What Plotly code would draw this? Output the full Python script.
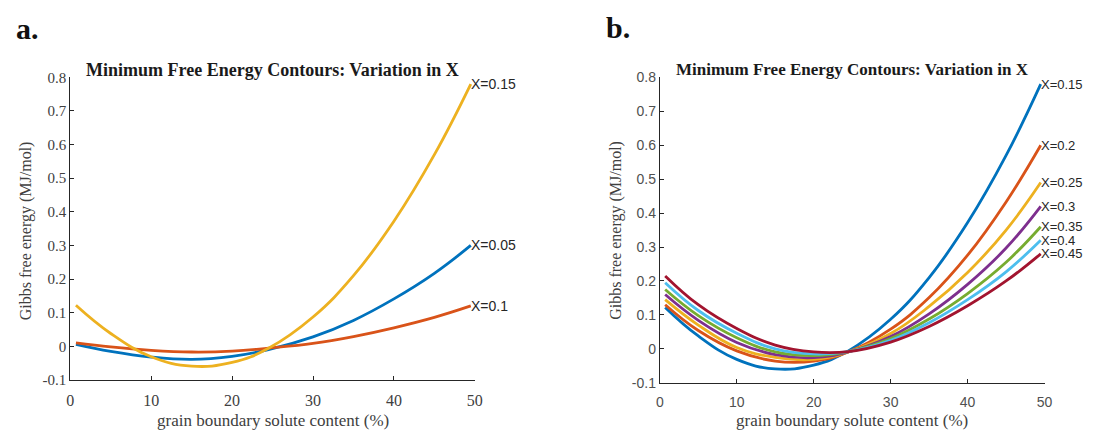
import plotly.graph_objects as go

# ---- data ---------------------------------------------------------------
# grain boundary solute content (%) at which each contour is sampled
gb_content = [0.7, 5, 10, 15, 20, 24.5, 30, 35, 40, 45, 49.5]

# Gibbs free energy (MJ/mol), panel a
g_x005 = [0.006, -0.015, -0.032, -0.039, -0.030, -0.010, 0.028, 0.077, 0.141, 0.217, 0.300]
g_x010 = [0.010, -0.002, -0.012, -0.017, -0.0145, -0.0055, 0.0085, 0.029, 0.055, 0.086, 0.120]
g_x015 = [0.122, 0.038, -0.031, -0.059, -0.048, -0.006, 0.087, 0.210, 0.372, 0.570, 0.780]

# Gibbs free energy (MJ/mol), panel b
g_x020 = [0.130, 0.054, -0.006, -0.036, -0.036, -0.009, 0.058, 0.151, 0.276, 0.433, 0.600]
g_x025 = [0.145, 0.070, 0.004, -0.025, -0.031, -0.009, 0.045, 0.125, 0.225, 0.350, 0.490]
g_x030 = [0.160, 0.084, 0.019, -0.017, -0.026, -0.009, 0.036, 0.103, 0.190, 0.297, 0.420]
g_x035 = [0.175, 0.098, 0.033, -0.009, -0.020, -0.008, 0.030, 0.088, 0.163, 0.255, 0.360]
g_x040 = [0.195, 0.113, 0.046, 0.000, -0.015, -0.008, 0.025, 0.077, 0.145, 0.227, 0.320]
g_x045 = [0.215, 0.130, 0.060, 0.011, -0.009, -0.008, 0.020, 0.066, 0.127, 0.200, 0.280]

labels_a = ["X=0.05", "X=0.1", "X=0.15"]
series_a = [g_x005, g_x010, g_x015]
labels_b = ["X=0.15", "X=0.2", "X=0.25", "X=0.3", "X=0.35", "X=0.4", "X=0.45"]
series_b = [g_x015, g_x020, g_x025, g_x030, g_x035, g_x040, g_x045]

x_ticks = [0, 10, 20, 30, 40, 50]
x_tick_text = ["0", "10", "20", "30", "40", "50"]
y_ticks = [-0.1, 0, 0.1, 0.2, 0.3, 0.4, 0.5, 0.6, 0.7, 0.8]
y_tick_text = ["-0.1", "0", "0.1", "0.2", "0.3", "0.4", "0.5", "0.6", "0.7", "0.8"]

title_text = "Minimum Free Energy Contours: Variation in X"
x_title = "grain boundary solute content (%)"
y_title = "Gibbs free energy (MJ/mol)"

# ---- styling ------------------------------------------------------------
palette = ["#0072BD", "#D95319", "#EDB120", "#7E2F8E", "#77AC30", "#4DBEEE", "#A2142F"]
W, H = 1104, 438
SERIF = "Liberation Serif, Times New Roman, serif"
SANS = "Liberation Sans, Arial, sans-serif"
AX = "#262626"

# plot areas in pixels (left, right, top, bottom)
box_a = (67, 476, 72, 386)
box_b = (663, 1052, 72, 389)


def dom_x(b):
    return [b[0] / W, b[1] / W]


def dom_y(b):
    return [1 - b[3] / H, 1 - b[2] / H]


fig = go.Figure()

for i, (lab, ys) in enumerate(zip(labels_a, series_a)):
    fig.add_trace(go.Scatter(x=gb_content, y=ys, mode="lines", xaxis="x", yaxis="y",
                             line=dict(color=palette[i], width=2.8, shape="spline", smoothing=1.2),
                             showlegend=False, name=lab))
for i, (lab, ys) in enumerate(zip(labels_b, series_b)):
    fig.add_trace(go.Scatter(x=gb_content, y=ys, mode="lines", xaxis="x2", yaxis="y2",
                             line=dict(color=palette[i], width=2.8, shape="spline", smoothing=1.2),
                             showlegend=False, name=lab))

axis_common = dict(showline=True, linecolor=AX, linewidth=1, ticks="inside", ticklen=4,
                   tickcolor=AX, showgrid=False, zeroline=False, mirror=False)

fig.update_layout(
    width=W, height=H, margin=dict(l=0, r=0, t=0, b=0),
    paper_bgcolor="white", plot_bgcolor="white",
    xaxis=dict(domain=dom_x(box_a), range=[0, 50], anchor="y", tickvals=x_ticks,
               ticktext=x_tick_text, ticklabelstandoff=6,
               tickfont=dict(family=SERIF, size=16, color="#404040"), **axis_common),
    yaxis=dict(domain=dom_y(box_a), range=[-0.1, 0.8], anchor="x", tickvals=y_ticks,
               ticktext=y_tick_text, tickfont=dict(family=SERIF, size=15, color="#404040"),
               **axis_common),
    xaxis2=dict(domain=dom_x(box_b), range=[0, 50], anchor="y2", tickvals=x_ticks,
                ticktext=x_tick_text, ticklabelstandoff=6,
                tickfont=dict(family=SANS, size=14, color="#505050"), **axis_common),
    yaxis2=dict(domain=dom_y(box_b), range=[-0.1, 0.8], anchor="x2", tickvals=y_ticks,
                ticktext=y_tick_text, tickfont=dict(family=SANS, size=14, color="#505050"),
                **axis_common),
)

ann = []
# end-of-curve labels
for lab, ys in zip(labels_a, series_a):
    ann.append(dict(x=gb_content[-1], y=ys[-1], xref="x", yref="y", text=lab, showarrow=False,
                    xanchor="left", yanchor="middle", xshift=-2,
                    font=dict(family=SANS, size=14, color=AX)))
for lab, ys in zip(labels_b, series_b):
    ann.append(dict(x=gb_content[-1], y=ys[-1], xref="x2", yref="y2", text=lab, showarrow=False,
                    xanchor="left", yanchor="middle", xshift=-2,
                    font=dict(family=SANS, size=13, color=AX)))

# titles, axis labels and panel letters
for box, tsize in ((box_a, 18), (box_b, 17)):
    cx = (box[0] + box[1]) / 2 / W
    ann.append(dict(x=cx, y=1 - 64 / H, xref="paper", yref="paper", text="<b>" + title_text + "</b>",
                    showarrow=False, xanchor="center", yanchor="middle",
                    font=dict(family=SERIF, size=tsize, color="#1a1a1a")))
    ann.append(dict(x=cx, y=1 - 428 / H, xref="paper", yref="paper", text=x_title,
                    showarrow=False, xanchor="center", yanchor="middle",
                    font=dict(family=SERIF, size=17, color="#404040")))
    ann.append(dict(x=(box[0] - 45) / W, y=1 - 231 / H, xref="paper", yref="paper", text=y_title,
                    showarrow=False, xanchor="center", yanchor="middle", textangle=-90,
                    font=dict(family=SERIF, size=16, color="#404040")))

ann.append(dict(x=24 / W, y=1 - 21 / H, xref="paper", yref="paper", text="<b>a.</b>",
                showarrow=False, xanchor="center", yanchor="middle",
                font=dict(family=SERIF, size=30, color="#111111")))
ann.append(dict(x=621 / W, y=1 - 20 / H, xref="paper", yref="paper", text="<b>b.</b>",
                showarrow=False, xanchor="center", yanchor="middle",
                font=dict(family=SERIF, size=30, color="#111111")))

fig.update_layout(annotations=ann)
fig.write_html("out.html")
